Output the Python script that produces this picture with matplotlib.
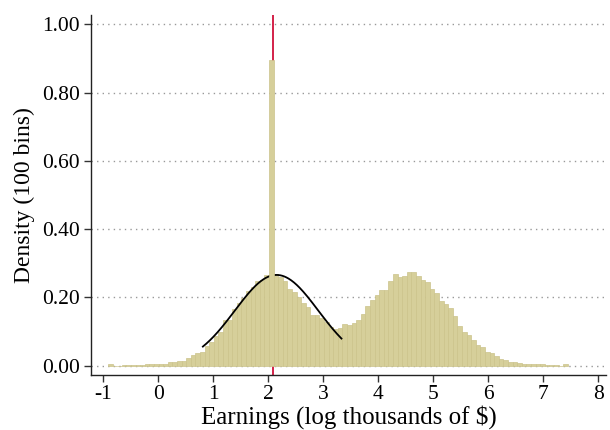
import numpy as np
import matplotlib
matplotlib.use("Agg")
import matplotlib.pyplot as plt

# Histogram: 100 bins
bin_start = -0.915
bin_width = 0.0836
densities = [
    0.005, 0.0, 0.0, 0.003, 0.003, 0.003, 0.003, 0.003, 0.004, 0.004,
    0.004, 0.005, 0.005, 0.010, 0.010, 0.015, 0.015, 0.023, 0.031, 0.036,
    0.039, 0.058, 0.069, 0.086, 0.100, 0.134, 0.134, 0.166, 0.183, 0.197,
    0.219, 0.230, 0.249, 0.250, 0.265, 0.895, 0.270, 0.260, 0.248, 0.225,
    0.215, 0.202, 0.185, 0.173, 0.150, 0.150, 0.139, 0.127, 0.114, 0.109,
    0.111, 0.122, 0.119, 0.126, 0.134, 0.153, 0.175, 0.192, 0.207, 0.222,
    0.222, 0.248, 0.268, 0.259, 0.262, 0.274, 0.274, 0.262, 0.250, 0.246,
    0.226, 0.212, 0.189, 0.181, 0.168, 0.145, 0.116, 0.100, 0.090, 0.075,
    0.060, 0.055, 0.040, 0.036, 0.028, 0.020, 0.017, 0.011, 0.011, 0.008,
    0.005, 0.005, 0.005, 0.004, 0.004, 0.003, 0.003, 0.003, 0.0, 0.004,
]

# Fitted normal curve
curve_mu = 2.15
curve_sigma = 0.76
curve_peak = 0.266
curve_from = 0.81
curve_to = 3.33

# Reference line
ref_line = 2.079

x_ticks = [-1, 0, 1, 2, 3, 4, 5, 6, 7, 8]
y_ticks = [0.0, 0.2, 0.4, 0.6, 0.8, 1.0]

plt.rcParams['font.family'] = ['Liberation Serif', 'DejaVu Serif']

fig = plt.figure(figsize=(6.1, 4.3), dpi=100)
ax = fig.add_axes([91/610, 1-375/430, (606-91)/610, (375-15)/430])

edges = bin_start + bin_width*np.arange(len(densities))
bars = ax.bar(edges, densities, width=bin_width, align='edge',
              color='#d6cf9a', edgecolor='#cbc38b', linewidth=0.5, zorder=2)
# the spike bar sits above the fitted curve
bars.patches[int(np.argmax(densities))].set_zorder(4)

xs = np.linspace(curve_from, curve_to, 200)
ys = curve_peak*np.exp(-0.5*((xs-curve_mu)/curve_sigma)**2)
ax.plot(xs, ys, color='black', linewidth=1.3, zorder=3)

ax.axvline(ref_line, color='#d0103a', linewidth=1.3, zorder=1.5)

ax.set_xlim(-1.224, 8.14)
ax.set_ylim(-0.027, 1.027)
ax.set_xticks(x_ticks)
ax.set_xticklabels([str(t) for t in x_ticks])
ax.set_yticks(y_ticks)
ax.set_yticklabels([f"{t:.2f}" for t in y_ticks])
ax.tick_params(axis='both', labelsize=15.5, length=5, width=1, color='#333333', pad=3)
ax.tick_params(axis='x', pad=2)
ax.yaxis.grid(True, linestyle=(0, (1, 3)), color='#999999', linewidth=1, zorder=0)
ax.set_axisbelow(True)
for s in ['top', 'right']:
    ax.spines[s].set_visible(False)
for s in ['left', 'bottom']:
    ax.spines[s].set_color('#222222')
    ax.spines[s].set_linewidth(1)

ax.set_xlabel('Earnings (log thousands of $)', fontsize=18, labelpad=1)
ax.set_ylabel('Density (100 bins)', fontsize=17, labelpad=5)

fig.savefig('out.png', dpi=100)
